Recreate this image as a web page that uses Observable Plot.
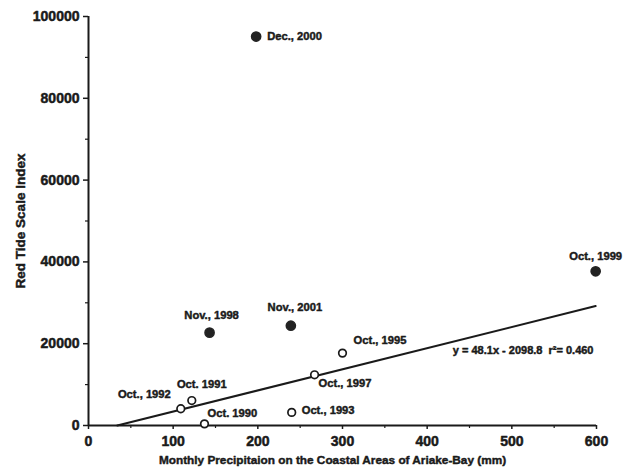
<!DOCTYPE html>
<html><head><meta charset="utf-8">
<script src="https://cdn.jsdelivr.net/npm/d3@7"></script>
<script src="https://cdn.jsdelivr.net/npm/@observablehq/plot@0.6"></script>
<style>body{margin:0;background:#fff}</style>
</head><body><div id="chart"></div>
<script>
// Filled points (high red tide events)
const filledLabels = ["Dec., 2000", "Nov., 1998", "Nov., 2001", "Oct., 1999"];
const filledX = [198, 143, 239, 599];
const filledY = [95100, 22700, 24400, 37700];
// Open points
const openLabels = ["Oct., 1992", "Oct. 1991", "Oct. 1990", "Oct., 1993", "Oct., 1997", "Oct., 1995"];
const openX = [109, 122, 137, 240, 267, 300];
const openY = [4100, 6100, 400, 3200, 12400, 17700];
// Regression line endpoints as drawn
const regX = [34, 599];
const regY = [0, 29200];
const equation = "y = 48.1x - 2098.8  r²= 0.460";
// Ticks
const yMajor = [0, 20000, 40000, 60000, 80000, 100000];
const yMinor = [10000, 30000, 50000, 70000, 90000];
const xMajor = [0, 100, 200, 300, 400, 500, 600];
const xMinor = [50, 150, 250, 350, 450, 550];
const xLabel = "Monthly Precipitaion on the Coastal Areas of Ariake-Bay (mm)";
const yLabel = "Red Tide Scale Index";

const filled = filledLabels.map((label, i) => ({label, x: filledX[i], y: filledY[i]}));
const open = openLabels.map((label, i) => ({label, x: openX[i], y: openY[i]}));
const reg = regX.map((x, i) => ({x, y: regY[i]}));

const ink = "#1a1a1a";
const heavy = {fill: ink, stroke: ink, strokeWidth: 0.45};

// label placement (pixel offsets)
const place = {
  "Dec., 2000": {dx: 11, dy: 0, a: "start"},
  "Nov., 1998": {dx: 2, dy: -17, a: "middle"},
  "Nov., 2001": {dx: 4, dy: -18, a: "middle"},
  "Oct., 1999": {dx: 0, dy: -15, a: "middle"},
  "Oct., 1995": {dx: 11, dy: -13, a: "start"},
  "Oct., 1997": {dx: 4, dy: 9, a: "start"},
  "Oct., 1993": {dx: 10, dy: -2, a: "start"},
  "Oct. 1990": {dx: 3, dy: -10, a: "start"},
  "Oct. 1991": {dx: 10, dy: -16, a: "middle"},
  "Oct., 1992": {dx: -10, dy: -14, a: "end"}
};
const labelMarks = [...filled, ...open].map(p => {
  const s = place[p.label];
  return Plot.text([p], {x: "x", y: "y", text: "label", dx: s.dx, dy: s.dy, textAnchor: s.a, fontSize: 11.2, ...heavy});
});

const axisText = {textStroke: ink, textStrokeWidth: 0.5, fill: ink};

const chart = Plot.plot({
  width: 627, height: 473,
  marginLeft: 88, marginRight: 31, marginTop: 16, marginBottom: 48,
  x: {domain: [0, 600]},
  y: {domain: [0, 100000]},
  style: {fontFamily: "'Liberation Sans', Arial, sans-serif", fontWeight: "bold", background: "#fff", color: ink},
  marks: [
    Plot.axisY(yMajor, {tickSize: 5, tickPadding: 4, fontSize: 14, tickFormat: d => String(d), label: null, strokeWidth: 1.5, ...axisText}),
    Plot.axisY(yMinor, {tickSize: 3, tickFormat: () => "", label: null, strokeWidth: 1.2}),
    Plot.axisX(xMajor, {tickSize: 4, tickPadding: 7, fontSize: 14, tickFormat: d => String(d), label: null, strokeWidth: 1.5, ...axisText}),
    Plot.axisX(xMinor, {tickSize: 3, tickFormat: () => "", label: null, strokeWidth: 1.2}),
    Plot.ruleX([0], {y1: 0, y2: 100000, strokeWidth: 2, stroke: ink}),
    Plot.ruleY([0], {x1: 0, x2: 600, strokeWidth: 2, stroke: ink}),
    Plot.line(reg, {x: "x", y: "y", strokeWidth: 2, stroke: ink}),
    Plot.dot(filled, {x: "x", y: "y", r: 4.6, fill: "#222", stroke: "#222"}),
    Plot.dot(open, {x: "x", y: "y", r: 3.8, fill: "white", stroke: ink, strokeWidth: 1.7}),
    ...labelMarks,
    Plot.text([equation], {frameAnchor: "bottom-right", dx: -3, dy: -72, textAnchor: "end", fontSize: 11, ...heavy}),
    Plot.text([xLabel], {frameAnchor: "bottom", dx: -10, dy: 38, textAnchor: "middle", fontSize: 11.8, ...heavy}),
    Plot.text([yLabel], {frameAnchor: "left", dx: -68, rotate: -90, textAnchor: "middle", fontSize: 13.5, ...heavy})
  ]
});
document.getElementById("chart").appendChild(chart);
</script>
</body></html>
